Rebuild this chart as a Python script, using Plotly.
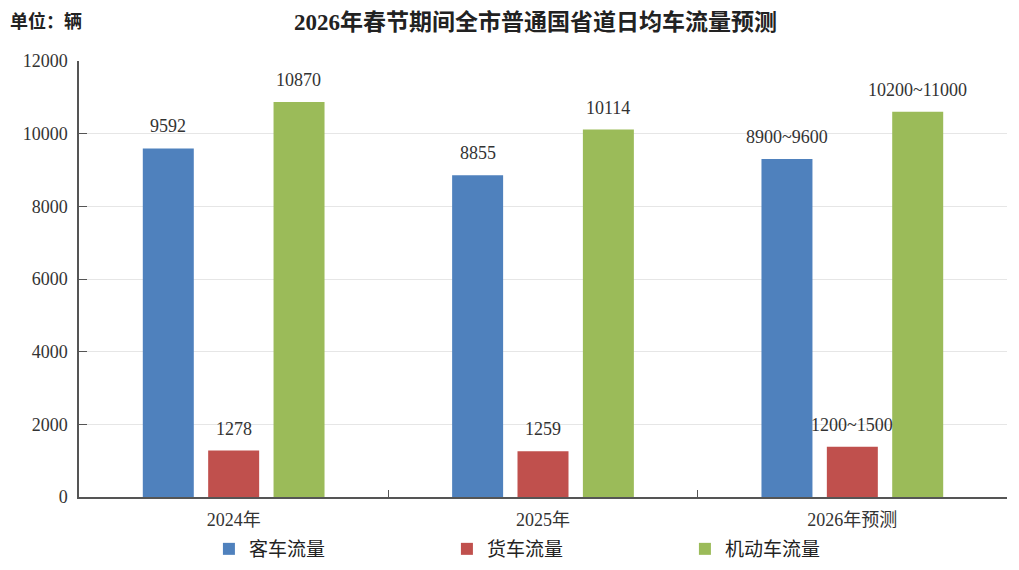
import plotly.graph_objects as go

# data
categories = ["2024年", "2025年", "2026年预测"]
series_names = ["客车流量", "货车流量", "机动车流量"]
passenger = [9592, 8855, 9300]
truck = [1278, 1259, 1380]
motor = [10870, 10114, 10600]
passenger_labels = ["9592", "8855", "8900~9600"]
truck_labels = ["1278", "1259", "1200~1500"]
motor_labels = ["10870", "10114", "10200~11000"]
colors = ["#4F81BD", "#C0504D", "#9BBB59"]

serif = "Liberation Serif, Times New Roman, Noto Sans CJK SC"
sans = "Noto Sans CJK SC, Microsoft YaHei, sans-serif"

fig = go.Figure()
annots = []
for j, (name, vals, labels, color) in enumerate(zip(series_names,
                                                    [passenger, truck, motor],
                                                    [passenger_labels, truck_labels, motor_labels],
                                                    colors)):
    fig.add_trace(go.Bar(
        name=name, x=categories, y=vals,
        marker=dict(color=color, line=dict(width=0)),
    ))
    # value labels sit a little above each bar
    for cat, v, lab in zip(categories, vals, labels):
        annots.append(dict(x=cat, y=v, text=lab, xref="x", yref="y",
                           xshift=(j - 1) * 65.3, yshift=10, yanchor="bottom",
                           showarrow=False,
                           font=dict(family=serif, size=18, color="#333333")))

annots += [
    dict(text="<b>2026年春节期间全市普通国省道日均车流量预测</b>",
         xref="paper", yref="paper", x=(527 - 71) / 928, y=1.0, yshift=39,
         xanchor="center", yanchor="middle", showarrow=False,
         font=dict(family=serif, size=23, color="#222222")),
    dict(text="<b>单位：辆</b>", xref="paper", yref="paper",
         x=0, xshift=-71, y=1.0, yshift=41, xanchor="left", yanchor="middle",
         showarrow=False, font=dict(family=sans, size=18, color="#222222")),
]

# page adds an 8px body margin, so the figure is 16px smaller than the window
fig.update_layout(
    width=1003, height=554,
    margin=dict(l=71, r=4, t=53, b=65),
    paper_bgcolor="white", plot_bgcolor="white",
    barmode="group", bargap=0.366, bargroupgap=0.22,
    showlegend=True,
    legend=dict(orientation="h", x=0.14, xanchor="left",
                yref="container", y=(554 - 541) / 554, yanchor="middle",
                font=dict(family=sans, size=19, color="#222222"),
                entrywidth=193, itemwidth=30, traceorder="normal"),
    annotations=annots,
)

fig.update_xaxes(
    showline=True, linecolor="#555555", linewidth=1.5,
    ticks="inside", tickson="boundaries", ticklen=7, tickcolor="#555555",
    tickfont=dict(family=serif, size=18, color="#333333"),
    ticklabelstandoff=6,
    showgrid=False, automargin=False,
)
fig.update_yaxes(
    range=[0, 12000], dtick=2000, tickformat="d",
    showline=True, linecolor="#555555", linewidth=1.5,
    ticks="inside", ticklen=8, tickcolor="#555555",
    tickfont=dict(family=serif, size=18, color="#333333"),
    ticklabelstandoff=6,
    showgrid=True, gridcolor="#e6e6e6", gridwidth=1,
    zeroline=False, automargin=False,
)

fig.write_html("out.html")
